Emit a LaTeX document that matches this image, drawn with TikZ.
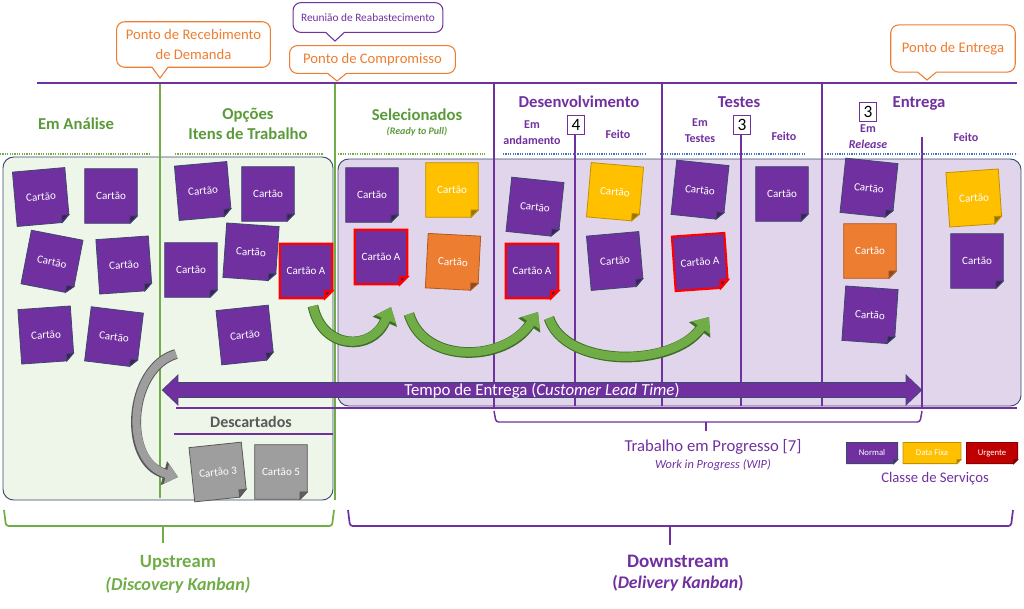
\documentclass[tikz,border=0pt]{standalone}
\usepackage{fontspec}
\setmainfont{Carlito}
\usetikzlibrary{calc,arrows.meta}
\definecolor{kpurple}{HTML}{7030A0}
\definecolor{kgreen}{HTML}{70AD47}
\definecolor{kdgreen}{HTML}{5B9A3A}
\definecolor{kggreen}{HTML}{3E6E27}
\definecolor{kgreenbg}{HTML}{EEF5E9}
\definecolor{kpurplebg}{HTML}{E1D5EC}
\definecolor{korange}{HTML}{ED7D31}
\definecolor{kdorange}{HTML}{AE5A21}
\definecolor{kyellow}{HTML}{FFC000}
\definecolor{kdyellow}{HTML}{BF9000}
\definecolor{kred}{HTML}{FF0000}
\definecolor{kdred}{HTML}{C00000}
\definecolor{kddred}{HTML}{8A0000}
\definecolor{kborder}{HTML}{3B4A6B}
\definecolor{kblue}{HTML}{4472C4}
\definecolor{kgray}{HTML}{9E9E9E}
\definecolor{kdgray}{HTML}{595959}
\newcommand\kfold{5.5pt}
\newcommand\kcard[7][]{%
  \node[cardbox,#1,rotate=#4] (#2) at (#3) {};
  \coordinate (#2-a) at ($(#2.south east)!\kfold!(#2.south west)$);
  \coordinate (#2-b) at ($(#2.south east)!\kfold!(#2.north east)$);
  \filldraw[fill=#5,#6] (#2.north west) -- (#2.north east) -- (#2-b) -- (#2-a) -- (#2.south west) -- cycle;
  \filldraw[fill=#5!60!black,#6] (#2-a) -- (#2-b) -- ($(#2-a)+(#2-b)-(#2.south east)$) -- cycle;
  \node[cardlabel,#1,rotate=#4] (#2-t) at (#2) {#7};}
\tikzset{
 cardbox/.style={shape=rectangle, minimum width=39pt, minimum height=40.5pt, inner sep=0pt},
 cardlabel/.style={shape=rectangle, inner sep=0pt, text=white, font=\fontsize{8.3}{9}\selectfont},
 nb/.style={draw=kborder, line width=0.6pt},
 rb/.style={draw=kred, line width=1.6pt},
 yb/.style={draw=kdyellow, line width=0.6pt},
 ob/.style={draw=kdorange, line width=0.6pt},
 gb/.style={draw=kdgray, line width=0.6pt},
 ub/.style={draw=kddred, line width=0.6pt},
 hg/.style={text=kdgreen, font=\bfseries\fontsize{12.5}{15.5}\selectfont, align=center, inner sep=0pt},
 hp/.style={text=kpurple, font=\bfseries\fontsize{12.5}{15.5}\selectfont, align=center, inner sep=0pt},
 subh/.style={text=kpurple, font=\bfseries\fontsize{9}{12}\selectfont, align=center, inner sep=0pt},
 wipbox/.style={draw=kpurple, fill=white, line width=0.8pt, minimum width=12.5pt, minimum height=14pt, inner sep=0pt, font=\fontsize{13}{13}\selectfont},
 cotext/.style={inner sep=0pt, align=center, font=\fontsize{11}{15}\selectfont},
 garrow/.style={kgreen, line width=6.5pt, -{Triangle[width=16pt,length=10pt]},
   preaction={draw=kggreen, line width=8pt, -{Triangle[width=19pt,length=12pt]}}},
 grarrow/.style={kgray, line width=6pt, -{Triangle[width=15pt,length=9pt]},
   preaction={draw=kdgray, line width=7.5pt, -{Triangle[width=18pt,length=11pt]}}},
 gdot/.style={kgreen, line width=1.2pt, dash pattern=on 0.9pt off 0.9pt},
 bdot/.style={kblue, line width=1.2pt, dash pattern=on 0.9pt off 0.9pt},
 brg/.style={kgreen, line width=1.3pt, rounded corners=2pt},
 brp/.style={kpurple, line width=1.3pt, rounded corners=2pt},
 lbl/.style={inner sep=0pt, align=center},
 legc/.style={minimum height=15.5pt, font=\fontsize{6.5}{7}\selectfont},
}
\begin{document}
\begin{tikzpicture}[x=0.75pt,y=-0.75pt]
\useasboundingbox (0,0) rectangle (1024,608);
% regions
\draw[fill=kgreenbg, draw=kborder, line width=0.7pt, rounded corners=8pt] (3,157) rectangle (333,500);
\draw[fill=kpurplebg, draw=kborder, line width=0.7pt, rounded corners=8pt] (338,159) rectangle (1021,406);
% top line and column lines
\draw[kpurple, line width=2.2pt] (37,83) -- (1017,83);
\draw[kgreen, line width=1pt] (160,84) -- (160,498);
\draw[kgreen, line width=1pt] (335,84) -- (335,500);
\draw[kpurple, line width=1.2pt] (494,83) -- (494,408);
\draw[kpurple, line width=1.2pt] (662,83) -- (662,406);
\draw[kpurple, line width=1.2pt] (822,83) -- (822,406);
\draw[kpurple, line width=0.8pt] (575,134) -- (575,406);
\draw[kpurple, line width=0.8pt] (741,134) -- (741,406);
\draw[kpurple, line width=0.8pt] (922,137) -- (922,408);
% dotted header lines
\draw[gdot] (0,154) -- (150,154);
\draw[gdot] (175,154) -- (323,154);
\draw[gdot] (338,154) -- (485,154);
\draw[bdot] (503,154) -- (645,154);
\draw[bdot] (660,154) -- (805,154);
\draw[bdot] (825,154) -- (1017,154);
% other horizontal lines
\draw[kpurple, line width=1.2pt] (176,408) -- (1017,408);
\draw[kpurple, line width=1.2pt] (174,434) -- (333,434);
% callouts
\node[cotext, text=korange, minimum width=115pt, minimum height=33.75pt] (rec) at (193.5,44.5) {Ponto de Recebimento\\de Demanda};
\coordinate (rec-tip) at (160,78);
\coordinate (rec-b) at (rec-tip |- rec.south);
\draw[korange, line width=0.8pt] (rec-tip) -- ([xshift=-6pt]rec-b) {[rounded corners=6pt] -- (rec.south west) -- (rec.north west) -- (rec.north east) -- (rec.south east)} -- ([xshift=6pt]rec-b) -- cycle;
\node[cotext, text=kpurple, font=\fontsize{8.5}{10}\selectfont, minimum width=112pt, minimum height=22pt] (reu) at (368,17.5) {Reunião de Reabastecimento};
\coordinate (reu-tip) at (335,41);
\coordinate (reu-b) at (reu-tip |- reu.south);
\draw[kpurple, line width=0.8pt] (reu-tip) -- ([xshift=-7pt]reu-b) {[rounded corners=6pt] -- (reu.south west) -- (reu.north west) -- (reu.north east) -- (reu.south east)} -- ([xshift=7pt]reu-b) -- cycle;
\node[cotext, text=korange, minimum width=124pt, minimum height=20.5pt] (com) at (372.5,59.5) {Ponto de Compromisso};
\coordinate (com-tip) at (337,81);
\coordinate (com-b) at (com-tip |- com.south);
\draw[korange, line width=0.8pt] (com-tip) -- ([xshift=-7pt]com-b) {[rounded corners=6pt] -- (com.south west) -- (com.north west) -- (com.north east) -- (com.south east)} -- ([xshift=7pt]com-b) -- cycle;
\node[cotext, text=korange, minimum width=93pt, minimum height=35pt] (ent) at (953,48.5) {Ponto de Entrega};
\coordinate (ent-tip) at (927,80);
\coordinate (ent-b) at (ent-tip |- ent.south);
\draw[korange, line width=0.8pt] (ent-tip) -- ([xshift=-7pt]ent-b) {[rounded corners=6pt] -- (ent.south west) -- (ent.north west) -- (ent.north east) -- (ent.south east)} -- ([xshift=7pt]ent-b) -- cycle;
% headers
\node[hg] (h1) at (76,124) {Em Análise};
\node[hg] (h2) at (248,124) {Opções\\Itens de Trabalho};
\node[hg] (h3) at (417,115) {Selecionados};
\node[text=kdgreen, font=\bfseries\itshape\fontsize{7.5}{9}\selectfont, inner sep=0pt] (h3s) at (417,132) {(Ready to Pull)};
\node[hp] (h4) at (579,102) {Desenvolvimento};
\node[subh] (h4a) at (532,133) {Em\\andamento};
\node[wipbox] (w4) at (576,125) {4};
\node[subh] (h4b) at (618,134) {Feito};
\node[hp] (h5) at (739,102) {Testes};
\node[subh] (h5a) at (700,131) {Em\\Testes};
\node[wipbox] (w5) at (742,125) {3};
\node[subh] (h5b) at (784,136) {Feito};
\node[hp] (h6) at (919,104) {Entrega};
\node[wipbox] (w6) at (868,112) {3};
\node[subh] (h6a) at (868,137) {Em\\\textit{Release}};
\node[subh] (h6b) at (966,137) {Feito};
\node[text=kdgray, font=\bfseries\fontsize{12}{14}\selectfont, inner sep=0pt] (desc) at (251,422) {Descartados};
% cards
\kcard{c1}{41,197}{5}{kpurple}{nb}{Cartão}
\kcard{c2}{111,196}{0}{kpurple}{nb}{Cartão}
\kcard{c3}{52,262}{-11}{kpurple}{nb}{Cartão}
\kcard{c4}{124,265}{4}{kpurple}{nb}{Cartão}
\kcard{c5}{46,335}{4}{kpurple}{nb}{Cartão}
\kcard{c6}{114,337}{-7}{kpurple}{nb}{Cartão}
\kcard{c7}{203,191}{5}{kpurple}{nb}{Cartão}
\kcard{c8}{268,194}{0}{kpurple}{nb}{Cartão}
\kcard{c9}{191,270}{0}{kpurple}{nb}{Cartão}
\kcard{c10}{251,252}{-4}{kpurple}{nb}{Cartão}
\kcard{ca1}{306,271}{0}{kpurple}{rb}{Cartão A}
\kcard{c12}{245,335}{6}{kpurple}{nb}{Cartão}
\kcard{c13}{372,195}{0}{kpurple}{nb}{Cartão}
\kcard{y1}{452,190}{0}{kyellow}{yb}{Cartão}
\kcard{ca2}{381,257}{0}{kpurple}{rb}{Cartão A}
\kcard{o1}{453,262}{-3}{korange}{ob}{Cartão}
\kcard{c17}{535,207}{-6}{kpurple}{nb}{Cartão}
\kcard{ca3}{532,271}{0}{kpurple}{rb}{Cartão A}
\kcard{y2}{615,192}{-5}{kyellow}{yb}{Cartão}
\kcard{c20}{615,261}{5}{kpurple}{nb}{Cartão}
\kcard{c21}{700,190}{-6}{kpurple}{nb}{Cartão}
\kcard{ca4}{700,262}{4}{kpurple}{rb}{Cartão A}
\kcard{c23}{782,194}{0}{kpurple}{nb}{Cartão}
\kcard{c24}{869,188}{-6}{kpurple}{nb}{Cartão}
\kcard{o2}{870,251}{0}{korange}{ob}{Cartão}
\kcard{c26}{870,315}{-4}{kpurple}{nb}{Cartão}
\kcard{y3}{974,198}{4}{kyellow}{yb}{Cartão}
\kcard{c28}{977,261}{0}{kpurple}{nb}{Cartão}
\kcard{g1}{218,472}{6}{kgray}{gb}{Cartão 3}
\kcard{g2}{281,472}{0}{kgray}{gb}{Cartão 5}
% flow arrows
\coordinate (fa1) at (313,306);
\coordinate (fb1) at (391,307);
\coordinate (fa2) at (409,314);
\coordinate (fb2) at (538,312);
\coordinate (fa3) at (549,318);
\coordinate (fb3) at (709,317);
\draw[garrow] (fa1) .. controls (322,350) and (372,352) .. (fb1);
\draw[garrow] (fa2) .. controls (424,365) and (505,362) .. (fb2);
\draw[garrow] (fa3) .. controls (565,368) and (672,368) .. (fb3);
\coordinate (ga) at (176,354);
\coordinate (gb) at (178,477);
\draw[grarrow] (ga) .. controls (128,368) and (122,462) .. (gb);
% lead time arrow
\coordinate (ltL) at (163,390);
\coordinate (ltR) at (921,390);
\draw[kborder, line width=11.5pt, {Triangle[width=23pt,length=12.5pt]}-{Triangle[width=23pt,length=12.5pt]}, shorten <=-1pt, shorten >=-1pt] (ltL) -- (ltR);
\draw[kpurple, line width=10pt, {Triangle[width=21pt,length=11pt]}-{Triangle[width=21pt,length=11pt]}] (ltL) -- (ltR);
\node[text=white, font=\fontsize{12.6}{12.6}\selectfont, inner sep=0pt] (ltt) at (542,391) {Tempo de Entrega (\textit{Customer Lead Time})};
% WIP brace
\draw[brp, line width=1.1pt] (494,411) -- (496,422) -- (920,422) -- (922,411);
\draw[kpurple, line width=1.1pt] (706,422) -- (706,431);
\node[lbl, text=kpurple, font=\fontsize{12.5}{14}\selectfont] (wipt) at (713,447) {Trabalho em Progresso [7]};
\node[lbl, text=kpurple, font=\itshape\fontsize{9.3}{11}\selectfont] (wips) at (713,465) {Work in Progress (WIP)};
% legend
\renewcommand\kfold{3pt}
\kcard[legc, minimum width=38pt]{ln}{872,453}{0}{kpurple}{nb}{Normal}
\kcard[legc, minimum width=43pt]{ld}{932,453}{0}{kyellow}{yb}{Data Fixa}
\kcard[legc, minimum width=38pt]{lu}{992,453}{0}{kdred}{ub}{Urgente}
\node[lbl, text=kpurple, font=\fontsize{11}{12}\selectfont] (cls) at (935,479) {Classe de Serviços};
% bottom braces
\draw[brg] (4,510) -- (6,526) -- (332,526) -- (334,510);
\draw[kgreen, line width=1.3pt] (163,526) -- (163,543);
\node[lbl, text=kgreen, font=\bfseries\fontsize{14}{17}\selectfont] (up) at (178,563) {Upstream};
\node[lbl, text=kgreen, font=\bfseries\itshape\fontsize{13.6}{16}\selectfont] (upk) at (178,585) {(Discovery Kanban)};
\draw[brp] (348,510) -- (350,526) -- (1011,526) -- (1013,510);
\draw[kpurple, line width=1.3pt] (670,526) -- (670,545);
\node[lbl, text=kpurple, font=\bfseries\fontsize{14.3}{17}\selectfont] (dn) at (678,561) {Downstream};
\node[lbl, text=kpurple, font=\bfseries\fontsize{13.3}{16}\selectfont] (dnk) at (678,583) {(\textit{Delivery Kanban})};
\end{tikzpicture}
\end{document}
